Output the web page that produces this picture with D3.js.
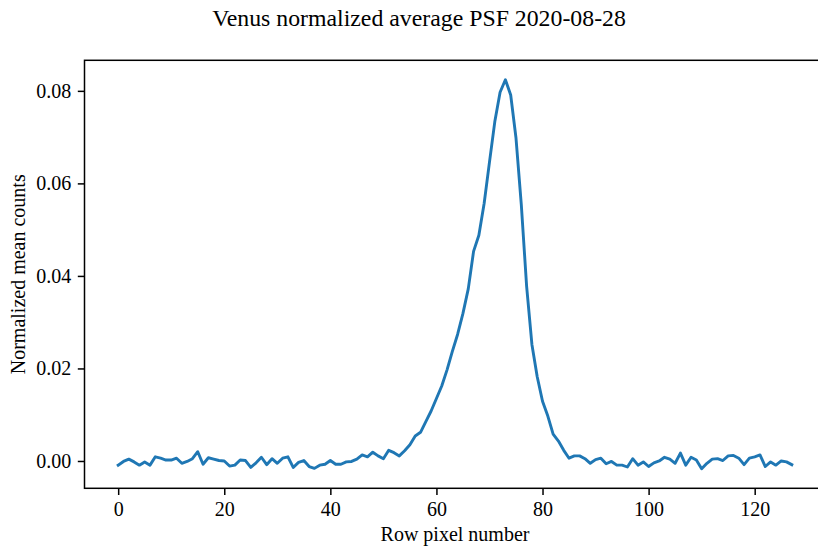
<!DOCTYPE html>
<html>
<head>
<meta charset="utf-8">
<script src="https://cdn.jsdelivr.net/npm/d3@7"></script>
<style>
  html, body { margin: 0; padding: 0; background: #fff; }
  svg { display: block; }
  text { font-family: "Liberation Serif", "Times New Roman", serif; fill: #000; }
</style>
</head>
<body>
<svg id="chart" width="818" height="548"></svg>
<script>
const title = "Venus normalized average PSF 2020-08-28";
const xLabel = "Row pixel number";
const yLabel = "Normalized mean counts";
const xTicks = [0, 20, 40, 60, 80, 100, 120];
const yTicks = [0.00, 0.02, 0.04, 0.06, 0.08];

// Normalized mean counts per row pixel (0..127)
const values = [
  -0.0009, -0.0001, 0.0004, -0.0002, -0.0009, -0.0002, -0.0009, 0.0009, 0.0006, 0.0002,
  0.0002, 0.0006, -0.0005, -0.0001, 0.0005, 0.0020, -0.0007, 0.0007, 0.0004, 0.0001,
  0.0000, -0.0011, -0.0009, 0.0002, 0.0001, -0.0014, -0.0004, 0.0008, -0.0008, 0.0005,
  -0.0005, 0.0006, 0.0009, -0.0014, -0.0003, 0.0001, -0.0012, -0.0016, -0.0009, -0.0007,
  0.0001, -0.0007, -0.0007, -0.0002, -0.0001, 0.0004, 0.0013, 0.0009, 0.0019, 0.0011,
  0.0005, 0.0023, 0.0018, 0.0011, 0.0022, 0.0035, 0.0054, 0.0062, 0.0085, 0.0108,
  0.0135, 0.0162, 0.0197, 0.0237, 0.0274, 0.0319, 0.0372, 0.0453, 0.0488, 0.0557,
  0.0646, 0.0733, 0.0797, 0.0824, 0.0791, 0.0698, 0.0554, 0.0378, 0.0252, 0.0182,
  0.0129, 0.0097, 0.0058, 0.0043, 0.0023, 0.0006, 0.0011, 0.0011, 0.0005, -0.0005,
  0.0003, 0.0006, -0.0006, -0.0001, -0.0009, -0.0009, -0.0013, 0.0005, -0.0009, -0.0002,
  -0.0012, -0.0004, 0.0000, 0.0008, 0.0004, -0.0005, 0.0017, -0.0009, 0.0008, 0.0002,
  -0.0017, -0.0005, 0.0004, 0.0005, 0.0001, 0.0011, 0.0012, 0.0006, -0.0008, 0.0006,
  0.0009, 0.0013, -0.0012, -0.0002, -0.0009, 0.0000, -0.0002, -0.0008
];
const pixels = values.map((_, i) => i);

const svg = d3.select("#chart");
const margin = { left: 84.5, top: 60.3, right: 825.5, bottom: 488.3 };

const xMin = d3.min(pixels), xMax = d3.max(pixels);
const xPad = (xMax - xMin) * 0.05;
const x = d3.scaleLinear().domain([xMin - xPad, xMax + xPad]).range([margin.left, margin.right]);

const yMin = d3.min(values), yMax = d3.max(values);
const yPad = (yMax - yMin) * 0.05;
const y = d3.scaleLinear().domain([yMin - yPad, yMax + yPad]).range([margin.bottom, margin.top]);

const fontPx = 20;
const tickLen = 6.7;
const tickPad = 6.5;

// line
const line = d3.line().x((d, i) => x(pixels[i])).y(d => y(d));
svg.append("path")
  .datum(values)
  .attr("d", line)
  .attr("fill", "none")
  .attr("stroke", "#1f77b4")
  .attr("stroke-width", 2.9)
  .attr("stroke-linejoin", "round")
  .attr("stroke-linecap", "square");

// axes
const xAxis = d3.axisBottom(x).tickValues(xTicks).tickFormat(d3.format("d"))
  .tickSize(tickLen).tickPadding(tickPad);
const yAxis = d3.axisLeft(y).tickValues(yTicks).tickFormat(d3.format(".2f"))
  .tickSize(tickLen).tickPadding(tickPad);

const gx = svg.append("g").attr("transform", `translate(0,${margin.bottom})`).call(xAxis);
const gy = svg.append("g").attr("transform", `translate(${margin.left},0)`).call(yAxis);
[gx, gy].forEach(g => {
  g.select(".domain").remove();
  g.selectAll(".tick line").attr("stroke", "#000").attr("stroke-width", 1.5);
  g.selectAll(".tick text")
    .style("font-family", '"Liberation Serif", "Times New Roman", serif')
    .style("font-size", fontPx + "px")
    .attr("fill", "#000");
});

// frame
svg.append("rect")
  .attr("x", margin.left).attr("y", margin.top)
  .attr("width", margin.right - margin.left)
  .attr("height", margin.bottom - margin.top)
  .attr("fill", "none").attr("stroke", "#000").attr("stroke-width", 1.5);

// title and labels
svg.append("text")
  .attr("x", 419).attr("y", 26)
  .attr("text-anchor", "middle")
  .style("font-size", "23.8px")
  .text(title);

svg.append("text")
  .attr("x", (margin.left + margin.right) / 2).attr("y", 541)
  .attr("text-anchor", "middle")
  .style("font-size", fontPx + "px")
  .text(xLabel);

svg.append("text")
  .attr("transform", `translate(25,${(margin.top + margin.bottom) / 2}) rotate(-90)`)
  .attr("text-anchor", "middle")
  .style("font-size", fontPx + "px")
  .text(yLabel);
</script>
</body>
</html>
